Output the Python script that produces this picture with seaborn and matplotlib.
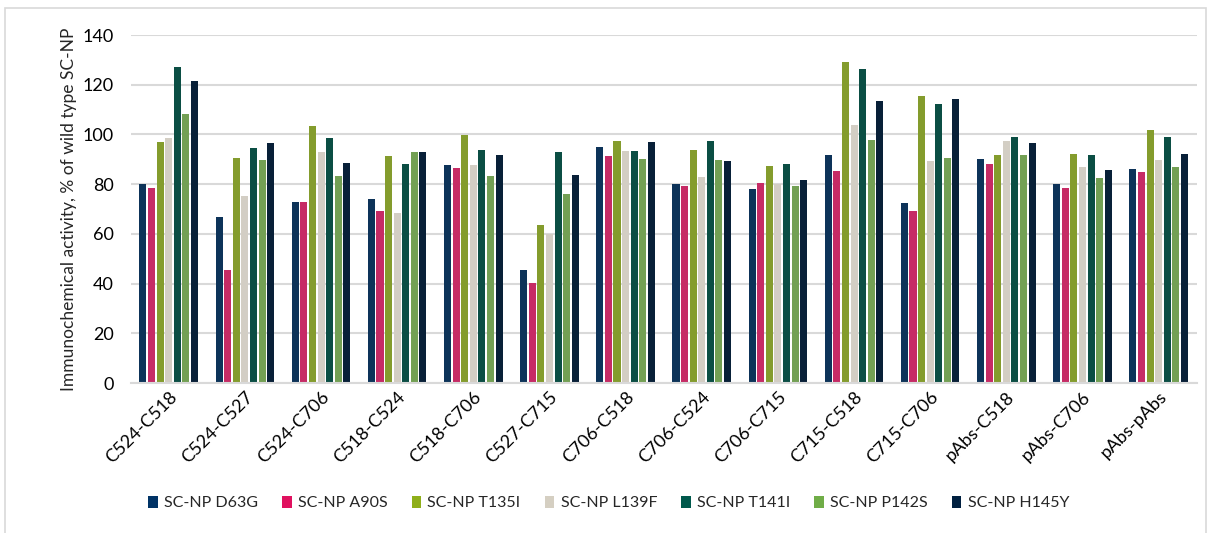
import matplotlib
matplotlib.use("Agg")
import matplotlib.pyplot as plt
import seaborn as sns
import pandas as pd
from matplotlib.patches import Rectangle, Patch

categories = ["C524-C518", "C524-C527", "C524-C706", "C518-C524", "C518-C706",
              "C527-C715", "C706-C518", "C706-C524", "C706-C715", "C715-C518",
              "C715-C706", "pAbs-C518", "pAbs-C706", "pAbs-pAbs"]

series_names = ["SC-NP D63G", "SC-NP A90S", "SC-NP T135I", "SC-NP L139F",
                "SC-NP T141I", "SC-NP P142S", "SC-NP H145Y"]

d63g  = [79.9, 66.7, 73.0, 74.0, 87.9, 45.4, 94.9, 80.1, 78.0, 91.7, 72.6, 90.1, 80.1, 86.0]
a90s  = [78.3, 45.6, 73.0, 69.3, 86.4, 40.4, 91.5, 79.2, 80.4, 85.4, 69.1, 88.1, 78.5, 84.8]
t135i = [97.0, 90.5, 103.2, 91.3, 99.7, 63.5, 97.3, 93.6, 87.2, 129.0, 115.6, 91.9, 92.2, 101.7]
l139f = [98.5, 75.4, 92.9, 68.2, 87.7, 60.1, 93.3, 83.0, 79.9, 103.8, 89.3, 97.4, 87.0, 89.7]
t141i = [127.1, 94.5, 98.5, 88.3, 93.6, 93.0, 93.3, 97.3, 88.2, 126.2, 112.3, 98.9, 91.9, 98.8]
p142s = [108.1, 89.9, 83.2, 92.9, 83.4, 76.0, 90.3, 89.8, 79.3, 97.7, 90.7, 91.9, 82.6, 87.0]
h145y = [121.7, 96.4, 88.5, 93.0, 91.7, 83.5, 97.0, 89.5, 81.7, 113.3, 114.2, 96.4, 85.5, 92.3]

colors = ["#003366", "#E0115F", "#8FAF1A", "#D5CFC2", "#00594C", "#70AD47", "#002040"]

series_values = [d63g, a90s, t135i, l139f, t141i, p142s, h145y]
rows = []
for name, vals in zip(series_names, series_values):
    for cat, v in zip(categories, vals):
        rows.append({"category": cat, "series": name, "value": v})
df = pd.DataFrame(rows)

sns.set_theme(style="white")
plt.rcParams["font.family"] = ["Lato", "DejaVu Sans"]

fig = plt.figure(figsize=(12.1, 5.33), dpi=100)
ax = fig.add_axes([0.108, 0.2814, 0.881, 0.6529])

sns.barplot(data=df, x="category", y="value", hue="series", order=categories,
            hue_order=series_names, palette=colors, width=0.79, gap=0.18,
            edgecolor="none", linewidth=0, ax=ax, legend=False)

ax.set_ylim(0, 140)
ax.set_xlim(-0.5, len(categories) - 0.5)
ax.set_yticks(range(0, 141, 20))
ax.yaxis.grid(True, color="#D9D9D9", linewidth=1.5)
ax.set_axisbelow(True)
for s in ["top", "right", "left"]:
    ax.spines[s].set_visible(False)
ax.spines["bottom"].set_color("#D9D9D9")
ax.spines["bottom"].set_linewidth(1.5)
ax.tick_params(axis="both", length=0, labelsize=13, colors="#000000")
ax.tick_params(axis="y", pad=12)
ax.set_xlabel("")
ax.set_ylabel("Immunochemical activity, % of wild type SC-NP", fontsize=12.5, labelpad=4)
plt.setp(ax.get_xticklabels(), rotation=45, ha="right", rotation_mode="anchor")
ax.tick_params(axis="x", pad=4)

handles = [Patch(facecolor=c, edgecolor="none") for c in colors]
fig.legend(handles, series_names, loc="center", bbox_to_anchor=(0.503, 0.056), ncol=7,
           frameon=False, fontsize=11.5, handlelength=0.6, handleheight=0.8,
           handletextpad=0.4, columnspacing=1.5)

fig.patches.append(Rectangle((5 / 1210, -0.05), 1201 / 1210, 1.05 - 8 / 533,
                             transform=fig.transFigure, fill=False,
                             edgecolor="#D9D9D9", linewidth=1.2))

fig.savefig("out.png", dpi=100, facecolor="white")
